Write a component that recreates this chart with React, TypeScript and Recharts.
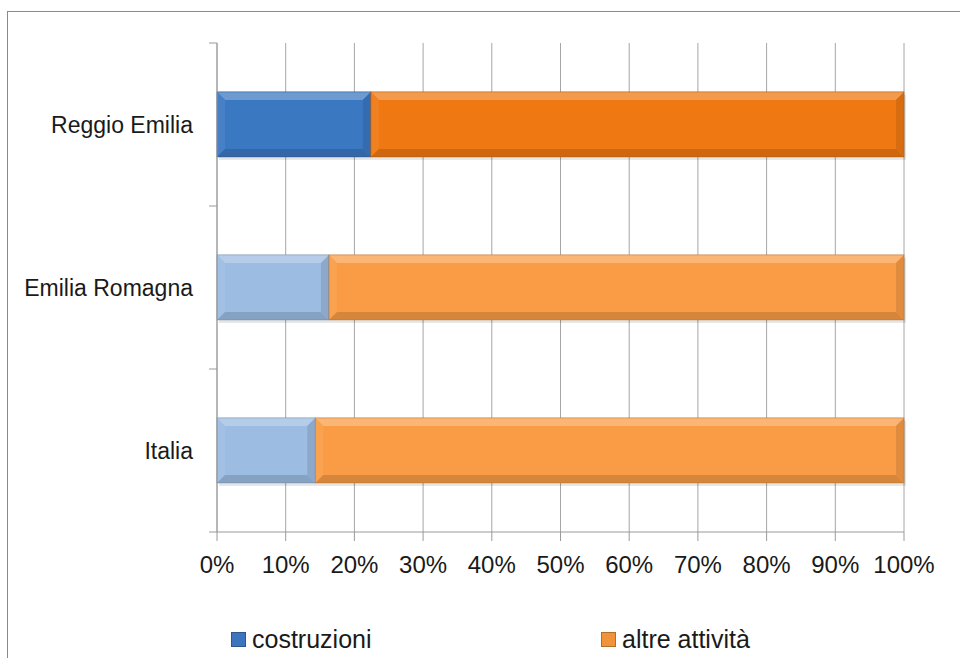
import React from "react";
import { BarChart, Bar, XAxis, YAxis, CartesianGrid, Cell } from "recharts";

const regions = ["Reggio Emilia", "Emilia Romagna", "Italia"];
const costruzioni = [22.4, 16.3, 14.3];
const altreAttivita = [77.6, 83.7, 85.7];
const xTicks = [0, 10, 20, 30, 40, 50, 60, 70, 80, 90, 100];

// first row is highlighted in darker tones, like the original
const blueFills = ["#3B78C2", "#9CBCE2", "#9CBCE2"];
const orangeFills = ["#EF7812", "#F99C45", "#F99C45"];

const data = regions.map((name, i) => ({
  name,
  costruzioni: costruzioni[i],
  altre: altreAttivita[i],
}));

const FONT = "'Liberation Sans', Arial, sans-serif";
const PLOT_TOP = 43;
const PLOT_BOTTOM = 532;
const BAND = (PLOT_BOTTOM - PLOT_TOP) / regions.length;

function shade(hex: string, amt: number) {
  const n = parseInt(hex.slice(1), 16);
  const mix = (c: number) =>
    Math.round(amt >= 0 ? c + (255 - c) * amt : c * (1 + amt));
  const r = mix((n >> 16) & 255);
  const g = mix((n >> 8) & 255);
  const b = mix(n & 255);
  return `rgb(${r},${g},${b})`;
}

function BevelBar(props: any) {
  const { x, y, width, height, fill } = props;
  if (!width || !height) return null;
  const w = width;
  const h = height;
  const b = Math.min(8, w / 2, h / 2);
  return (
    <g>
      <rect x={x + 2} y={y + 3} width={w} height={h} fill="#000" opacity={0.1} />
      <rect x={x} y={y} width={w} height={h} fill={fill} />
      <polygon
        points={`${x},${y} ${x + w},${y} ${x + w - b},${y + b} ${x + b},${y + b}`}
        fill={shade(fill, 0.25)}
      />
      <polygon
        points={`${x},${y} ${x + b},${y + b} ${x + b},${y + h - b} ${x},${y + h}`}
        fill={shade(fill, 0.06)}
      />
      <polygon
        points={`${x},${y + h} ${x + b},${y + h - b} ${x + w - b},${y + h - b} ${x + w},${y + h}`}
        fill={shade(fill, -0.14)}
      />
      <polygon
        points={`${x + w},${y} ${x + w},${y + h} ${x + w - b},${y + h - b} ${x + w - b},${y + b}`}
        fill={shade(fill, -0.1)}
      />
      <rect x={x} y={y} width={w} height={h} fill="none" stroke={shade(fill, -0.25)} strokeWidth={0.6} />
    </g>
  );
}

function CategoryTick(props: any) {
  const { x, y, payload, index } = props;
  return (
    <g>
      {index === 0 && (
        <line x1={x} x2={x + 8} y1={y - BAND / 2} y2={y - BAND / 2} stroke="#9A9A9A" />
      )}
      <line x1={x} x2={x + 8} y1={y + BAND / 2} y2={y + BAND / 2} stroke="#9A9A9A" />
      <text
        x={x - 16}
        y={y}
        textAnchor="end"
        dominantBaseline="central"
        fontSize={23}
        fontFamily={FONT}
        fill="#1a1a1a"
      >
        {payload.value}
      </text>
    </g>
  );
}

function LegendItem({ color, label, left }: { color: string; label: string; left: number }) {
  return (
    <div style={{ position: "absolute", left, top: 624, display: "flex", alignItems: "center" }}>
      <div
        style={{
          width: 13,
          height: 13,
          background: color,
          border: `1px solid ${shade(color, -0.25)}`,
          marginRight: 6,
        }}
      />
      <span style={{ fontFamily: FONT, fontSize: 25, color: "#1a1a1a", lineHeight: "30px" }}>{label}</span>
    </div>
  );
}

export default function App() {
  return (
    <div
      style={{
        position: "absolute",
        left: 0,
        top: 0,
        width: 960,
        height: 658,
        overflow: "hidden",
        background: "#fff",
      }}
    >
      <div
        style={{
          position: "absolute",
          left: 7,
          top: 11,
          width: 980,
          height: 700,
          border: "1.5px solid #8A8A8A",
        }}
      />
      <div style={{ position: "absolute", left: 0, top: 0 }}>
        <BarChart
          width={960}
          height={658}
          data={data}
          layout="vertical"
          margin={{ top: PLOT_TOP, right: 56, bottom: 0, left: 0 }}
          barCategoryGap="30%"
        >
          <CartesianGrid horizontal={false} stroke="#A6A6A6" />
          <XAxis
            type="number"
            domain={[0, 100]}
            ticks={xTicks}
            interval={0}
            tickFormatter={(v: number) => `${v}%`}
            height={658 - PLOT_BOTTOM}
            tickSize={9}
            tickMargin={15}
            stroke="#9A9A9A"
            tick={{ fontSize: 24, fontFamily: FONT, fill: "#1a1a1a" }}
          />
          <YAxis
            type="category"
            dataKey="name"
            width={217}
            tickLine={false}
            stroke="#9A9A9A"
            tick={<CategoryTick />}
          />
          <Bar dataKey="costruzioni" stackId="a" shape={<BevelBar />} isAnimationActive={false}>
            {data.map((d, i) => (
              <Cell key={d.name} fill={blueFills[i]} />
            ))}
          </Bar>
          <Bar dataKey="altre" stackId="a" shape={<BevelBar />} isAnimationActive={false}>
            {data.map((d, i) => (
              <Cell key={d.name} fill={orangeFills[i]} />
            ))}
          </Bar>
        </BarChart>
      </div>
      <LegendItem color="#3A75BD" label="costruzioni" left={231} />
      <LegendItem color="#F0933A" label="altre attività" left={601} />
    </div>
  );
}
